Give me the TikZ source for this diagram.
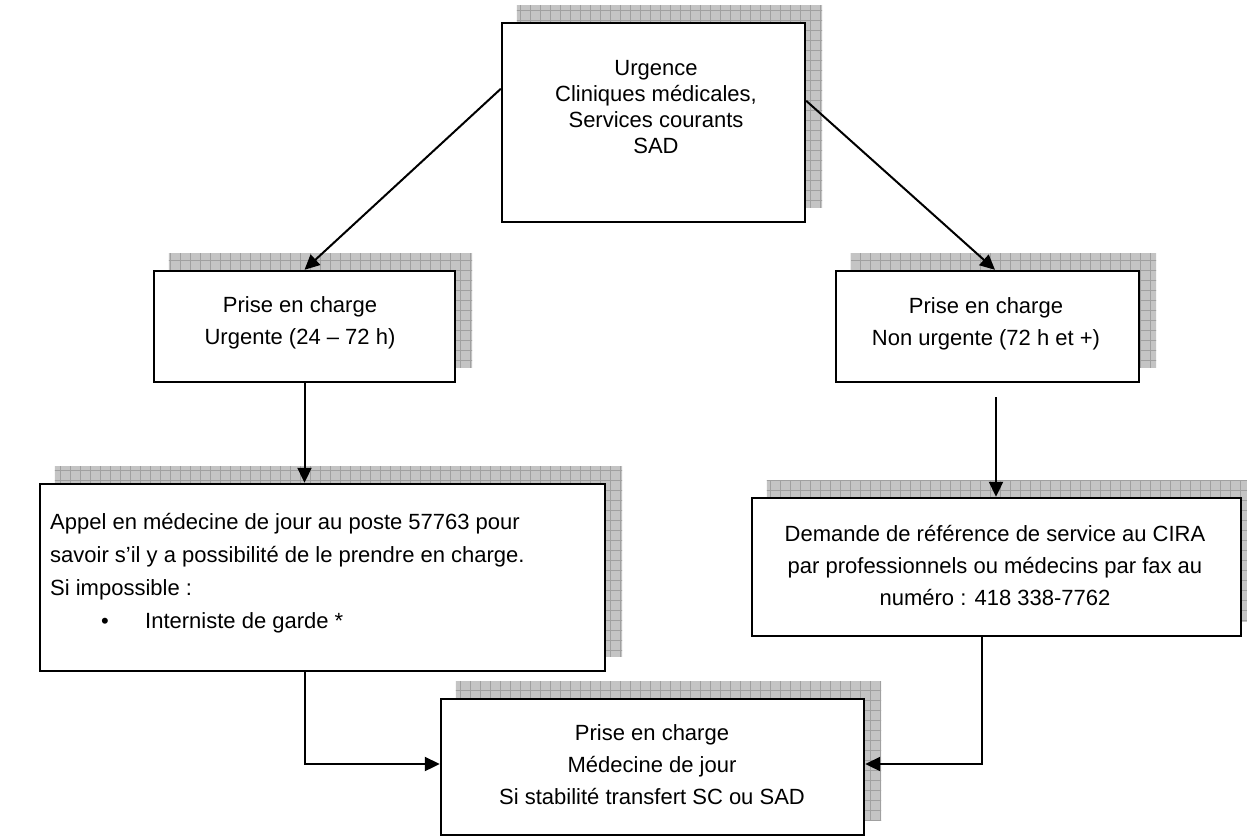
\documentclass[tikz,border=0pt]{standalone}
\usepackage{fontspec}
\setmainfont{Liberation Sans}
\usetikzlibrary{arrows.meta,calc}
\pgfdeclarelayer{bg}
\pgfdeclarelayer{shadows}
\pgfsetlayers{bg,shadows,main}
\definecolor{shfill}{RGB}{196,196,196}
\definecolor{shgrid}{RGB}{160,160,160}
\tikzset{
  boxnode/.style={draw=black, line width=2.4pt, fill=white, inner sep=0pt, rectangle},
  txt/.style={inner sep=0pt, align=center, font=\fontsize{22}{32}\selectfont},
  toptxt/.style={inner sep=0pt, align=center, font=\fontsize{22}{26}\selectfont},
  lefttxt/.style={inner sep=0pt, align=left, anchor=west, font=\fontsize{22}{33}\selectfont},
  link/.style={line width=2pt, -{Triangle[length=15pt,width=14pt]}},
}
\newcommand\boxshadow[1]{%
  \begin{pgfonlayer}{shadows}
    \begin{scope}
      \clip (0,0) rectangle (1247,836);
      \clip ([shift={(16,-16)}]#1.south west) rectangle ([shift={(16,-16)}]#1.north east);
      \fill[shfill] (0,0) rectangle (1247,836);
      \draw[shgrid, line width=0.8pt, step=10pt] (0,0) grid (1250,840);
    \end{scope}
  \end{pgfonlayer}}
\begin{document}
\begin{tikzpicture}[x=1pt,y=-1pt]
  \useasboundingbox (0,0) rectangle (1247,836);
  \begin{pgfonlayer}{bg}
    \fill[white] (0,0) rectangle (1247,836);
  \end{pgfonlayer}

  % boxes
  \node[boxnode, minimum width=303pt, minimum height=199pt] (top) at (653.5,122.5) {};
  \node[boxnode, minimum width=301pt, minimum height=111pt] (urg) at (304.5,326.5) {};
  \node[boxnode, minimum width=303pt, minimum height=111pt] (non) at (987.5,326.5) {};
  \node[boxnode, minimum width=565pt, minimum height=187pt] (appel) at (322.5,577.5) {};
  \node[boxnode, minimum width=489pt, minimum height=138pt] (dem) at (996.5,567) {};
  \node[boxnode, minimum width=423pt, minimum height=136pt] (fin) at (652.5,767) {};

  \boxshadow{top}
  \boxshadow{urg}
  \boxshadow{non}
  \boxshadow{appel}
  \boxshadow{dem}
  \boxshadow{fin}

  % texts
  \node[toptxt] (toptext) at (656,107) {Urgence\\Cliniques médicales,\\Services courants\\SAD};
  \node[txt] (urgtext) at (300,323) {Prise en charge\\Urgente (24 – 72 h)};
  \node[txt] (nontext) at (986,324) {Prise en charge\\Non urgente (72 h et +)};
  \node[lefttxt] (appeltext) at (50,573) {Appel en médecine de jour au poste 57763 pour\\savoir s’il y a possibilité de le prendre en charge.\\Si impossible~:\\\makebox[95pt][l]{\hspace*{51pt}•}Interniste de garde *};
  \node[txt] (demtext) at (995,565) {Demande de référence de service au CIRA\\par professionnels ou médecins par fax au\\numéro : 418 338-7762};
  \node[txt] (fintext) at (652,765) {Prise en charge\\Médecine de jour\\Si stabilité transfert SC ou SAD};

  % connectors
  \coordinate (topl) at ($(top.north west)+(0,67)$);
  \coordinate (topr) at ($(top.north east)+(0,79)$);
  \coordinate (nonin) at ($(non.north)+(7.5,0)$);
  \coordinate (nonout) at ($(non.south)+(8.5,14)$);
  \coordinate (demout) at ($(dem.south)+(-14.5,0)$);
  \coordinate (finl) at ($(fin.west)+(0,-3)$);
  \coordinate (finr) at ($(fin.east)+(0,-3)$);
  \coordinate (appout) at (urg.south |- appel.south);

  \draw[link] (topl) -- (urg.north);
  \draw[link] (topr) -- (nonin);
  \draw[link] (urg.south) -- (urg.south |- appel.north);
  \draw[link] (nonout) -- (nonout |- dem.north);
  \draw[link] (appout) -- (appout |- finl) -- (finl);
  \draw[link] (demout) -- (demout |- finr) -- (finr);
\end{tikzpicture}
\end{document}
